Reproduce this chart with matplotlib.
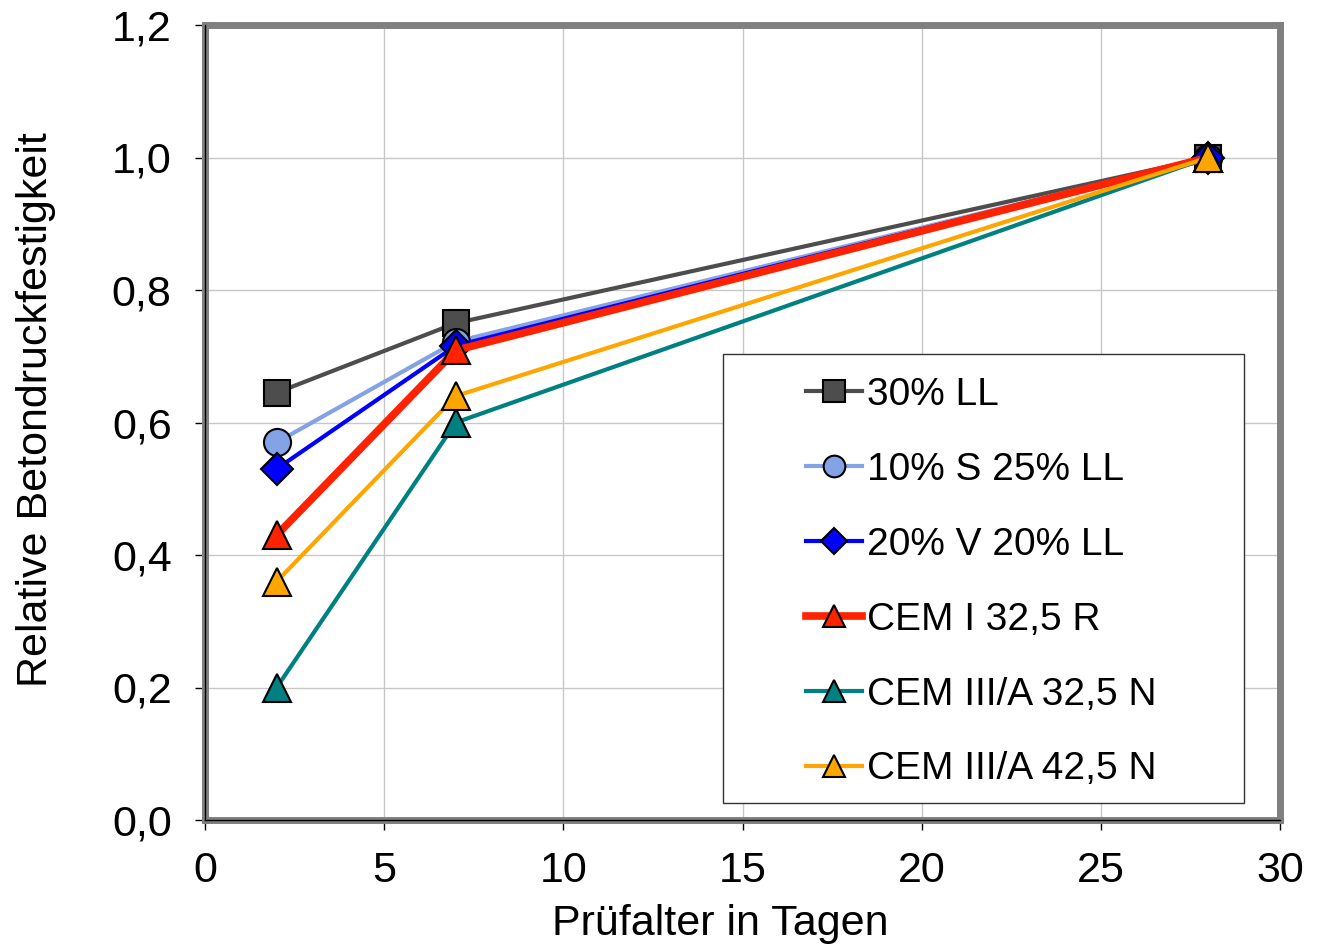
import matplotlib
matplotlib.use("Agg")
import matplotlib.pyplot as plt
from matplotlib.ticker import FuncFormatter
from matplotlib.patches import Rectangle

plt.rcParams['font.family'] = ['Liberation Sans', 'DejaVu Sans']

days = [2, 7, 28]
series_names = ["30% LL", "10% S 25% LL", "20% V 20% LL",
                "CEM I 32,5 R", "CEM III/A 32,5 N", "CEM III/A 42,5 N"]
v_30LL = [0.645, 0.750, 1.0]
v_10S25LL = [0.57, 0.722, 1.0]
v_20V20LL = [0.53, 0.716, 1.0]
v_cem1 = [0.43, 0.709, 1.0]
v_cem3_325 = [0.20, 0.60, 1.0]
v_cem3_425 = [0.36, 0.64, 1.0]

values = [v_30LL, v_10S25LL, v_20V20LL, v_cem1, v_cem3_325, v_cem3_425]
colors = ["#4d4d4d", "#84a2e6", "#0000ff", "#ff2200", "#008080", "#ffa500"]
markers = ["s", "o", "D", "^", "^", "^"]
msizes = [19, 19.5, 16, 20, 20, 20]
lwidths = [3.0, 3.0, 3.0, 5.5, 3.0, 3.0]

fig = plt.figure(figsize=(13.21, 9.48), dpi=100)
ax = fig.add_axes([205/1321, 1-820/948, 1075/1321, 795/948])

for name, vals, c, m, ms, lw in zip(series_names, values, colors, markers, msizes, lwidths):
    ax.plot(days, vals, color=c, lw=lw, marker=m, markersize=ms,
            markerfacecolor=c, markeredgecolor='black', markeredgewidth=1.5,
            label=name, clip_on=False, zorder=3)

ax.set_xlim(0, 30)
ax.set_ylim(0, 1.2)
ax.set_xticks([0, 5, 10, 15, 20, 25, 30])
ax.set_yticks([0, 0.2, 0.4, 0.6, 0.8, 1.0, 1.2])
ax.yaxis.set_major_formatter(FuncFormatter(lambda v, p: f"{v:.1f}".replace('.', ',')))
ax.grid(True, color='#c8c8c8', lw=1.0, zorder=0)
ax.set_axisbelow(True)
ax.tick_params(axis='both', direction='out', length=7, width=1.0, color='black',
               labelsize=31, pad=17)
ax.tick_params(axis='x', pad=15)

for s in ax.spines.values():
    s.set_color('#808080')
    s.set_linewidth(5)
    s.set_zorder(2)
ax.plot([0, 0], [0, 1], transform=ax.transAxes, color='black', lw=1.0, clip_on=False, zorder=2.5)
ax.plot([0, 1], [0, 0], transform=ax.transAxes, color='black', lw=1.0, clip_on=False, zorder=2.5)

ax.set_xlabel("Prüfalter in Tagen", fontsize=31, labelpad=10)
ax.set_ylabel("Relative Betondruckfestigkeit", fontsize=31, labelpad=40)
ax.xaxis.label.set_x((720-205)/1075)
ax.yaxis.label.set_y((820-410)/795)

# legend box
x0 = (723-205)/1075
y0 = (820-803)/795
w = (1244-723)/1075
h = (803-354)/795
ax.add_patch(Rectangle((x0, y0), w, h, transform=ax.transAxes, facecolor='white',
                       edgecolor='#333333', lw=1.0, zorder=4))
leg = ax.legend(loc='upper left', bbox_to_anchor=((806-205)/1075, (820-377)/795),
                frameon=False, fontsize=28, handlelength=1.45, handletextpad=0.12,
                labelspacing=1.0, borderpad=0.0, borderaxespad=0.0, markerscale=0.8)
leg.set_zorder(5)

fig.savefig("out.png", dpi=100)
